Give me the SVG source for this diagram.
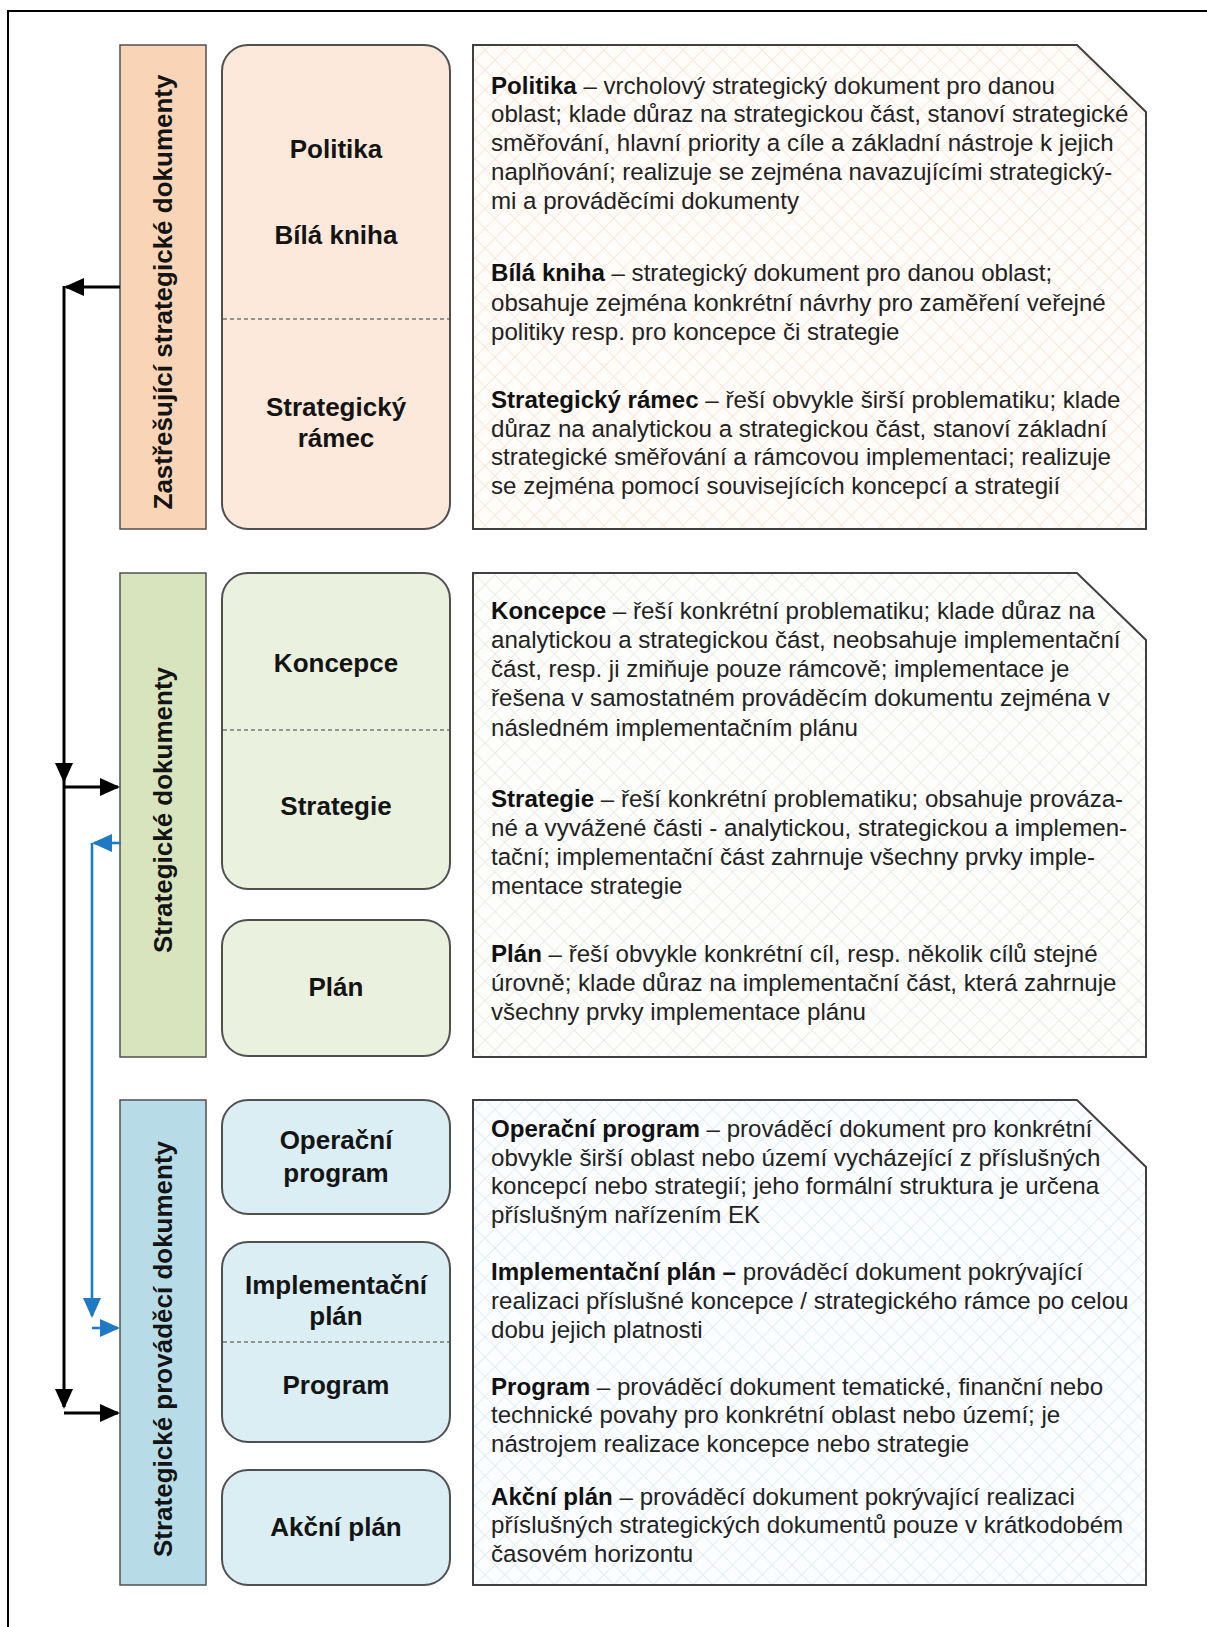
<svg xmlns="http://www.w3.org/2000/svg" width="1207" height="1627" viewBox="0 0 1207 1627">
<style>
.frame{fill:none;stroke:#000;stroke-width:2}
.side{stroke:#505050;stroke-width:1.5}
.box{stroke:#505050;stroke-width:2}
.tbox{stroke:#404040;stroke-width:2}
.dash{stroke:#777;stroke-width:1.5;stroke-dasharray:4 3;fill:none}
.lbl{font-family:"Liberation Sans",Arial,sans-serif;font-weight:bold;font-size:26px;fill:#141414;text-anchor:middle}
.side-lbl{font-family:"Liberation Sans",Arial,sans-serif;font-weight:bold;font-size:26px;fill:#141414;text-anchor:middle}
.body{font-family:"Liberation Sans",Arial,sans-serif;font-size:24.1px;fill:#222}
.b{font-weight:bold;fill:#111}
.blk{fill:none;stroke:#000;stroke-width:3}
.blu{fill:none;stroke:#1F7AC6;stroke-width:2.6}
</style>
<defs>
<pattern id="h1" width="14" height="14" patternUnits="userSpaceOnUse" patternTransform="rotate(45)">
<rect width="14" height="14" fill="#FFFCF9"/>
<path d="M0,0 H14 M0,0 V14" stroke="#F6E2D2" stroke-width="1.5"/>
</pattern>
<pattern id="h2" width="14" height="14" patternUnits="userSpaceOnUse" patternTransform="rotate(45)">
<rect width="14" height="14" fill="#FDFDFB"/>
<path d="M0,0 H14 M0,0 V14" stroke="#E6E9E0" stroke-width="1.5"/>
</pattern>
<pattern id="h3" width="14" height="14" patternUnits="userSpaceOnUse" patternTransform="rotate(45)">
<rect width="14" height="14" fill="#FBFDFE"/>
<path d="M0,0 H14 M0,0 V14" stroke="#DCE9F1" stroke-width="1.5"/>
</pattern>
<marker id="ab" markerUnits="userSpaceOnUse" markerWidth="20" markerHeight="18" refX="18" refY="9" orient="auto">
<path d="M0,0 L20,9 L0,18 z" fill="#000"/>
</marker>
<marker id="au" markerUnits="userSpaceOnUse" markerWidth="20" markerHeight="18" refX="18" refY="9" orient="auto">
<path d="M0,0 L20,9 L0,18 z" fill="#1F7AC6"/>
</marker>
</defs>

<rect class="frame" x="8" y="11" width="1215" height="1640"/>

<!-- Section 1 -->
<g id="side1">
<rect class="side" x="120" y="45" width="86" height="484" fill="#FAD4B6"/>
<text class="side-lbl" transform="translate(172,292) rotate(-90)">Zastřešující strategické dokumenty</text>
</g>
<g id="box1">
<rect class="box" x="222" y="45" width="228" height="484" rx="26" fill="#FDE9DB"/>
<line class="dash" x1="223" y1="319" x2="449" y2="319"/>
<text class="lbl" x="336" y="158">Politika</text>
<text class="lbl" x="336" y="244">Bílá kniha</text>
<text class="lbl" x="336" y="416">Strategický</text>
<text class="lbl" x="336" y="447">rámec</text>
</g>
<g id="text1">
<path class="tbox" d="M473,45 H1077 L1146,112 V529 H473 Z" fill="url(#h1)"/>
<text class="body" x="491" y="94"><tspan class="b">Politika</tspan> – vrcholový strategický dokument pro danou</text>
<text class="body" x="491" y="122">oblast; klade důraz na strategickou část, stanoví strategické</text>
<text class="body" x="491" y="151">směřování, hlavní priority a cíle a základní nástroje k jejich</text>
<text class="body" x="491" y="180">naplňování; realizuje se zejména navazujícími strategický-</text>
<text class="body" x="491" y="209">mi a prováděcími dokumenty</text>
<text class="body" x="491" y="281"><tspan class="b">Bílá kniha</tspan> – strategický dokument pro danou oblast;</text>
<text class="body" x="491" y="311">obsahuje zejména konkrétní návrhy pro zaměření veřejné</text>
<text class="body" x="491" y="340">politiky resp. pro koncepce či strategie</text>
<text class="body" x="491" y="408"><tspan class="b">Strategický rámec</tspan> – řeší obvykle širší problematiku; klade</text>
<text class="body" x="491" y="437">důraz na analytickou a strategickou část, stanoví základní</text>
<text class="body" x="491" y="465">strategické směřování a rámcovou implementaci; realizuje</text>
<text class="body" x="491" y="494">se zejména pomocí souvisejících koncepcí a strategií</text>
</g>

<!-- Section 2 -->
<g id="side2">
<rect class="side" x="120" y="573" width="86" height="484" fill="#D8E4BE"/>
<text class="side-lbl" transform="translate(172,810) rotate(-90)">Strategické dokumenty</text>
</g>
<g id="box2">
<rect class="box" x="222" y="573" width="228" height="316" rx="26" fill="#EBF1DF"/>
<line class="dash" x1="223" y1="730" x2="449" y2="730"/>
<text class="lbl" x="336" y="672">Koncepce</text>
<text class="lbl" x="336" y="815">Strategie</text>
</g>
<g id="box3">
<rect class="box" x="222" y="920" width="228" height="136" rx="26" fill="#EBF1DF"/>
<text class="lbl" x="336" y="996">Plán</text>
</g>
<g id="text2">
<path class="tbox" d="M473,573 H1077 L1146,640 V1057 H473 Z" fill="url(#h2)"/>
<text class="body" x="491" y="619"><tspan class="b">Koncepce</tspan> – řeší konkrétní problematiku; klade důraz na</text>
<text class="body" x="491" y="648">analytickou a strategickou část, neobsahuje implementační</text>
<text class="body" x="491" y="677">část, resp. ji zmiňuje pouze rámcově; implementace je</text>
<text class="body" x="491" y="706">řešena v samostatném prováděcím dokumentu zejména v</text>
<text class="body" x="491" y="736">následném implementačním plánu</text>
<text class="body" x="491" y="807"><tspan class="b">Strategie</tspan> – řeší konkrétní problematiku; obsahuje prováza-</text>
<text class="body" x="491" y="836">né a vyvážené části - analytickou, strategickou a implemen-</text>
<text class="body" x="491" y="865">tační; implementační část zahrnuje všechny prvky imple-</text>
<text class="body" x="491" y="894">mentace strategie</text>
<text class="body" x="491" y="962"><tspan class="b">Plán</tspan> – řeší obvykle konkrétní cíl, resp. několik cílů stejné</text>
<text class="body" x="491" y="991">úrovně; klade důraz na implementační část, která zahrnuje</text>
<text class="body" x="491" y="1020">všechny prvky implementace plánu</text>
</g>

<!-- Section 3 -->
<g id="side3">
<rect class="side" x="120" y="1100" width="86" height="485" fill="#B7DCE8"/>
<text class="side-lbl" transform="translate(172,1349) rotate(-90)">Strategické prováděcí dokumenty</text>
</g>
<g id="box4">
<rect class="box" x="222" y="1100" width="228" height="114" rx="26" fill="#DAEEF4"/>
<text class="lbl" x="336" y="1149">Operační</text>
<text class="lbl" x="336" y="1182">program</text>
</g>
<g id="box5">
<rect class="box" x="222" y="1242" width="228" height="200" rx="26" fill="#DAEEF4"/>
<line class="dash" x1="223" y1="1342" x2="449" y2="1342"/>
<text class="lbl" x="336" y="1294">Implementační</text>
<text class="lbl" x="336" y="1325">plán</text>
<text class="lbl" x="336" y="1394">Program</text>
</g>
<g id="box6">
<rect class="box" x="222" y="1470" width="228" height="115" rx="26" fill="#DAEEF4"/>
<text class="lbl" x="336" y="1536">Akční plán</text>
</g>
<g id="text3">
<path class="tbox" d="M473,1100 H1077 L1146,1167 V1585 H473 Z" fill="url(#h3)"/>
<text class="body" x="491" y="1137"><tspan class="b">Operační program</tspan> – prováděcí dokument pro konkrétní</text>
<text class="body" x="491" y="1166">obvykle širší oblast nebo území vycházející z příslušných</text>
<text class="body" x="491" y="1194">koncepcí nebo strategií; jeho formální struktura je určena</text>
<text class="body" x="491" y="1223">příslušným nařízením EK</text>
<text class="body" x="491" y="1280"><tspan class="b">Implementační plán –</tspan> prováděcí dokument pokrývající</text>
<text class="body" x="491" y="1309">realizaci příslušné koncepce / strategického rámce po celou</text>
<text class="body" x="491" y="1338">dobu jejich platnosti</text>
<text class="body" x="491" y="1395"><tspan class="b">Program</tspan> – prováděcí dokument tematické, finanční nebo</text>
<text class="body" x="491" y="1423">technické povahy pro konkrétní oblast nebo území; je</text>
<text class="body" x="491" y="1452">nástrojem realizace koncepce nebo strategie</text>
<text class="body" x="491" y="1505"><tspan class="b">Akční plán</tspan> – prováděcí dokument pokrývající realizaci</text>
<text class="body" x="491" y="1533">příslušných strategických dokumentů pouze v krátkodobém</text>
<text class="body" x="491" y="1562">časovém horizontu</text>
</g>

<!-- Connectors -->
<g id="connectors">
<path class="blk" d="M120,287 H66" marker-end="url(#ab)"/>
<path class="blk" d="M64,286 V781" marker-end="url(#ab)"/>
<path class="blk" d="M64,787 H118" marker-end="url(#ab)"/>
<path class="blk" d="M64,781 V1407" marker-end="url(#ab)"/>
<path class="blk" d="M64,1413 H118" marker-end="url(#ab)"/>
<path class="blu" d="M121,843 H94" marker-end="url(#au)"/>
<path class="blu" d="M92,843 V1316" marker-end="url(#au)"/>
<path class="blu" d="M92,1328 H118" marker-end="url(#au)"/>
</g>
</svg>
